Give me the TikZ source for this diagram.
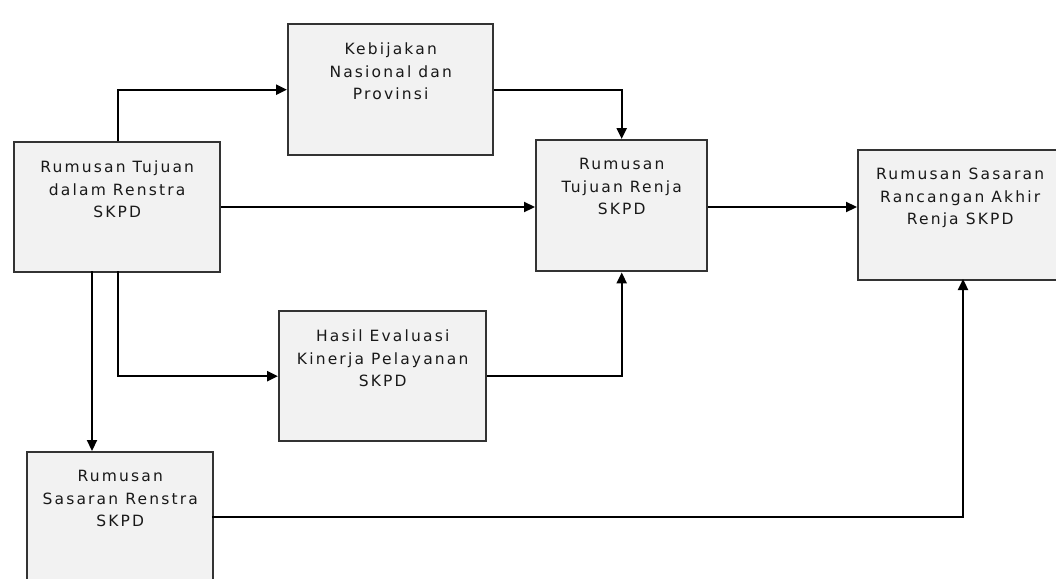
\documentclass[tikz,border=0pt]{standalone}
\usepackage{fontspec}
\setmainfont{DejaVu Sans}
\newfontfamily\lblfont[LetterSpace=14]{DejaVu Sans}
\usetikzlibrary{arrows.meta}
\definecolor{boxfill}{HTML}{F2F2F2}
\definecolor{boxline}{HTML}{333333}
\tikzset{
  procbox/.style={draw=boxline, fill=boxfill, line width=2.4pt, rectangle, anchor=north west, inner sep=0pt},
  lbl/.style={anchor=north, align=center, inner sep=0pt, text=black!90,
    font=\lblfont\fontsize{15.5}{22.5}\selectfont},
  conn/.style={draw=black, line width=2.2pt, -{Triangle[length=11pt,width=10pt]}},
}
\begin{document}
\begin{tikzpicture}[x=1pt,y=-1pt]
\useasboundingbox (0,0) rectangle (1056,578);
\clip (0,0) rectangle (1056,578);
% boxes
\node[procbox, minimum width=205pt, minimum height=131pt] (keb) at (287,23) {};
\node[procbox, minimum width=206pt, minimum height=130pt] (ren) at (13,141) {};
\node[procbox, minimum width=171pt, minimum height=131pt] (tuj) at (535,139) {};
\node[procbox, minimum width=204pt, minimum height=130pt] (akh) at (857,149) {};
\node[procbox, minimum width=207pt, minimum height=130pt] (has) at (278,310) {};
\node[procbox, minimum width=186pt, minimum height=140pt] (sas) at (26,451) {};
% labels
\node[lbl] (kebt) at ([yshift=-20pt]keb.north) {Kebijakan\\Nasional dan\\Provinsi};
\node[lbl] (rent) at ([yshift=-20pt]ren.north) {Rumusan Tujuan\\dalam Renstra\\SKPD};
\node[lbl] (tujt) at ([yshift=-19pt]tuj.north) {Rumusan\\Tujuan Renja\\SKPD};
\node[lbl] (akht) at ([yshift=-19pt]akh.north) {Rumusan Sasaran\\Rancangan Akhir\\Renja SKPD};
\node[lbl] (hast) at ([yshift=-20pt]has.north) {Hasil Evaluasi\\Kinerja Pelayanan\\SKPD};
\node[lbl] (sast) at ([yshift=-19pt]sas.north) {Rumusan\\Sasaran Renstra\\SKPD};
% helper coordinates
\coordinate (r1) at (118,141);
\coordinate (r2) at (118,271);
\coordinate (r3) at (92,271);
\coordinate (s1) at (212,517);
\coordinate (a1) at (963,279);
% connectors
\draw[conn] (r1) |- (keb.west);
\draw[conn] (keb.east) -| (tuj.north);
\draw[conn] (ren.east |- 0,207) -- (tuj.west |- 0,207);
\draw[conn] (tuj.east |- 0,207) -- (akh.west |- 0,207);
\draw[conn] (r2) |- (has.west);
\draw[conn] (has.east) -| (tuj.south);
\draw[conn] (r3) -- (r3 |- sas.north);
\draw[conn] (s1) -| (a1);
\end{tikzpicture}
\end{document}
